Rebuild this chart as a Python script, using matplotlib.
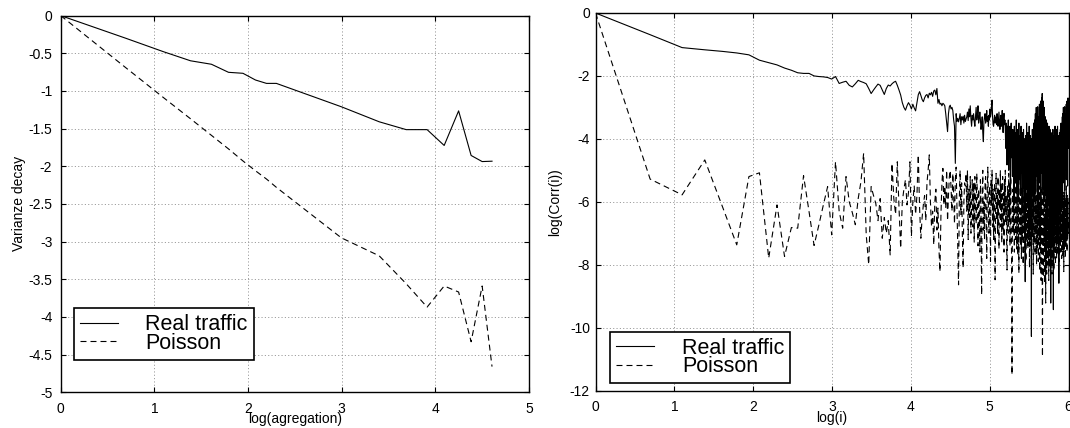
import numpy as np
import matplotlib
matplotlib.use('Agg')
import matplotlib.pyplot as plt
from matplotlib.ticker import FormatStrFormatter, FixedLocator

plt.rcParams['font.family'] = ['Liberation Sans', 'DejaVu Sans']
plt.rcParams['axes.unicode_minus'] = False
plt.rcParams['lines.scale_dashes'] = False

# ---------------- data: left panel (variance decay) ----------------
agg_levels = [1, 2, 3, 4, 5, 6, 7, 8, 9, 10, 20, 30, 40, 50, 60, 70, 80, 90, 100]
var_real = [0, -0.30, -0.48, -0.60, -0.646, -0.753, -0.766, -0.855, -0.90, -0.90,
            -1.21, -1.41, -1.514, -1.514, -1.724, -1.265, -1.857, -1.938, -1.933]
var_poisson = [0, -0.69, -1.09, -1.37, -1.59, -1.77, -1.93, -2.06, -2.17, -2.28,
               -2.95, -3.19, -3.56, -3.87, -3.59, -3.67, -4.33, -3.59, -4.66]

# ---------------- data: right panel (log correlation vs log lag) ----------------
corr_real = [
    0, -0.69, -1.10, -1.17, -1.22, -1.27, -1.33, -1.50, -1.58, -1.65,
    -1.75, -1.82, -1.90, -1.92, -1.92, -2.00, -2.02, -2.03, -2.05, -2.10,
    -2.02, -2.24, -2.20, -2.17, -2.30, -2.35, -2.25, -2.14, -2.18, -2.21,
    -2.25, -2.40, -2.56, -2.45, -2.35, -2.26, -2.30, -2.45, -2.59, -2.40,
    -2.29, -2.32, -2.25, -2.20, -2.17, -2.30, -2.45, -2.61, -2.85, -3.00,
    -3.09, -2.95, -2.85, -2.93, -3.05, -2.90, -3.02, -3.11, -2.85, -2.60,
    -2.50, -2.62, -2.75, -2.82, -2.70, -2.62, -2.59, -2.70, -2.55, -2.60,
    -2.52, -2.65, -2.48, -2.45, -2.60, -2.40, -2.87, -2.75, -2.90, -2.87,
    -2.95, -2.87, -2.90, -2.95, -3.20, -3.50, -3.77, -3.20, -2.98, -2.93,
    -3.05, -3.00, -3.10, -3.40, -3.60, -4.78, -3.20, -3.45, -3.35, -3.46,
    -3.35, -3.20, -3.55, -3.30, -3.40, -3.28, -3.50, -3.25, -3.45, -3.38,
    -3.30, -3.15, -3.42, -3.05, -3.30, -2.95, -3.35, -3.60, -3.25, -3.40,
    -3.20, -3.45, -3.60, -3.30, -3.00, -3.40, -3.25, -2.95, -3.50, -3.35,
    -3.15, -3.40, -3.70, -3.55, -3.30, -3.80, -4.09, -3.45, -3.30, -3.20,
    -3.50, -3.35, -3.10, -3.45, -3.30, -3.60, -3.25, -3.40, -3.05, -3.30,
    -3.20, -2.95, -2.77, -3.30, -3.55, -3.60, -3.40, -3.25, -3.50, -3.45,
    -3.30, -3.55, -3.20, -3.45, -3.60, -3.35, -3.15, -3.50, -3.70, -3.40,
    -3.25, -3.60, -3.45, -3.10, -3.50, -3.80, -3.35, -3.19, -3.55, -3.40,
    -3.70, -4.30, -3.50, -3.90, -4.83, -3.60, -4.20, -3.40, -5.00, -3.80,
    -4.40, -3.60, -5.68, -4.10, -3.50, -4.60, -3.90, -5.20, -3.70, -4.80,
    -4.00, -6.10, -3.60, -4.50, -5.40, -3.80, -4.90, -3.40, -5.60, -4.20,
    -3.70, -5.00, -6.00, -4.30, -3.50, -5.30, -4.60, -3.90, -5.80, -4.10,
    -3.60, -5.10, -4.40, -6.20, -3.80, -4.90, -5.50, -3.70, -4.60, -6.50,
    -4.00, -5.20, -8.54, -3.90, -4.80, -5.60, -3.50, -4.40, -6.00, -4.70,
    -3.80, -5.40, -4.20, -6.30, -3.60, -5.00, -4.50, -6.70, -3.90, -5.30,
    -4.60, -10.28, -4.00, -5.80, -3.70, -5.10, -4.30, -6.40, -3.50, -5.50,
    -4.20, -6.00, -3.40, -4.90, -3.20, -5.70, -4.10, -3.00, -5.20, -4.40,
    -3.10, -5.90, -2.98, -4.50, -3.60, -6.50, -3.30, -4.80, -2.90, -5.40,
    -3.50, -4.30, -2.80, -6.20, -3.20, -4.60, -2.70, -5.10, -2.56, -4.00,
    -3.00, -5.60, -2.80, -4.40, -3.30, -6.00, -3.00, -4.70, -3.40, -5.80,
    -3.30, -4.50, -3.60, -6.30, -3.40, -5.00, -3.80, -6.80, -3.50, -4.90,
    -3.80, -6.00, -4.00, -5.20, -3.60, -7.00, -4.20, -5.50, -3.70, -6.40,
    -4.10, -9.22, -3.80, -5.60, -4.50, -6.60, -3.90, -5.10, -4.30, -7.20,
    -3.70, -5.40, -9.43, -4.20, -6.10, -3.90, -5.00, -4.60, -6.80, -3.60,
    -5.30, -4.40, -6.50, -3.80, -5.70, -4.10, -7.00, -3.70, -4.90, -6.20,
    -3.60, -5.50, -4.30, -6.60, -3.90, -5.00, -8.59, -4.20, -5.80, -3.80,
    -5.20, -4.00, -6.40, -3.70, -5.60, -4.50, -3.50, -6.10, -4.00, -5.30,
    -3.60, -4.80, -3.30, -6.00, -4.20, -3.20, -5.40, -3.00, -4.60, -3.40,
    -5.10, -3.10, -4.40, -2.98, -5.60, -3.50, -4.20, -3.20, -5.00, -3.60,
    -4.50, -2.90, -5.30, -3.30, -4.00, -2.80, -4.70, -3.10, -5.50, -3.40,
    -2.70, -4.30, -3.60,
]

corr_poisson = [
    0, -5.28, -5.78, -4.67, -6.15, -7.37, -5.20, -5.08, -7.79, -6.10,
    -7.74, -6.82, -6.84, -5.17, -6.30, -7.39, -6.74, -6.10, -5.52, -7.05,
    -4.73, -6.31, -6.84, -5.20, -6.00, -6.35, -6.73, -5.90, -5.36, -4.46,
    -7.05, -8.00, -5.52, -5.80, -6.05, -6.60, -5.90, -7.16, -6.50, -7.00,
    -6.60, -7.69, -4.78, -5.90, -6.40, -4.73, -6.20, -7.48, -6.00, -5.60,
    -5.30, -6.10, -5.70, -4.73, -7.10, -6.00, -5.50, -6.40, -5.80, -4.51,
    -6.20, -7.16, -6.50, -6.10, -5.80, -6.60, -5.40, -5.00, -4.51, -6.00,
    -6.80, -6.30, -7.37, -6.00, -5.60, -6.90, -6.20, -7.50, -8.22, -6.40,
    -5.40, -4.94, -6.10, -5.50, -6.20, -5.00, -6.60, -5.80, -5.20, -5.00,
    -5.60, -6.30, -5.10, -5.80, -6.70, -5.30, -4.90, -6.20, -7.40, -8.64,
    -5.90, -5.00, -6.40, -5.40, -7.10, -8.10, -6.00, -5.40, -5.50, -5.10,
    -6.30, -5.00, -7.20, -5.60, -6.50, -5.20, -7.00, -6.10, -5.30, -6.80,
    -5.40, -7.30, -5.20, -6.00, -6.70, -5.10, -5.90, -7.40, -5.60, -6.20,
    -7.60, -5.30, -6.40, -8.96, -5.80, -5.00, -6.90, -6.00, -7.20, -5.40,
    -5.20, -6.50, -7.80, -5.60, -4.90, -6.20, -7.00, -5.50, -6.30, -7.90,
    -5.30, -6.10, -5.00, -6.80, -5.60, -7.20, -6.00, -5.40, -8.48, -6.30,
    -5.10, -6.60, -5.80, -7.00, -5.20, -6.40, -7.50, -5.60, -6.20, -5.00,
    -6.80, -5.40, -7.30, -6.00, -5.20, -6.90, -5.70, -7.60, -5.30, -6.40,
    -5.00, -6.70, -5.80, -7.20, -8.17, -5.50, -6.30, -7.00, -5.10, -6.60,
    -5.40, -7.40, -6.00, -5.20, -6.90, -7.80, -11.50, -6.20, -5.60, -7.00,
    -5.30, -6.50, -7.60, -5.80, -6.20, -7.20, -5.00, -6.80, -7.50, -5.60,
    -6.40, -7.70, -5.40, -6.90, -8.27, -5.80, -7.10, -6.00, -5.20, -7.40,
    -6.20, -7.80, -5.50, -6.60, -7.20, -5.90, -8.00, -6.30, -5.40, -7.00,
    -6.50, -7.60, -5.10, -6.80, -7.90, -5.70, -6.40, -7.30, -5.30, -6.90,
    -7.50, -6.00, -5.40, -7.20, -6.30, -8.10, -5.60, -6.70, -7.40, -5.20,
    -6.60, -7.80, -5.90, -6.40, -7.10, -5.40, -6.80, -8.30, -6.00, -5.50,
    -7.30, -6.20, -5.60, -7.70, -6.50, -5.30, -7.00, -6.10, -8.00, -5.80,
    -6.90, -7.50, -5.40, -6.30, -7.90, -5.70, -6.60, -7.20, -5.50, -8.20,
    -6.10, -7.40, -5.60, -6.80, -8.50, -6.00, -7.10, -5.50, -8.80, -10.92,
    -6.30, -7.60, -5.70, -8.40, -6.50, -7.20, -5.40, -8.60, -6.80, -7.50,
    -5.90, -9.22, -6.40, -7.80, -5.50, -8.30, -6.90, -7.40, -5.80, -8.00,
    -6.20, -7.60, -5.40, -8.50, -6.70, -7.30, -5.60, -8.10, -6.40, -7.70,
    -5.50, -6.90, -8.00, -6.10, -7.40, -5.30, -8.30, -6.60, -7.20, -5.70,
    -6.80, -7.90, -5.40, -6.50, -8.20, -5.90, -7.10, -6.30, -7.60, -5.50,
    -6.70, -8.00, -5.80, -7.30, -6.20, -5.40, -7.80, -6.50, -5.70, -7.10,
    -6.00, -7.70, -5.40, -6.80, -7.40, -5.60, -6.30, -7.90, -5.80, -6.60,
    -7.20, -5.50, -6.90, -7.60, -5.90, -6.40, -7.30, -5.60, -6.80, -7.80,
    -6.10, -5.50, -7.10, -6.50, -7.70, -5.80, -6.60, -7.40, -6.00, -8.22,
    -5.70, -6.90, -7.50, -6.20, -5.60, -7.20, -6.60, -7.80, -5.90, -6.70,
    -7.40, -6.10, -5.50, -7.00, -6.40, -7.60, -5.80, -6.90, -7.20, -6.30,
    -5.90, -7.00, -6.50,
]

left_xticks = [0, 1, 2, 3, 4, 5]
left_yticks = [0, -0.5, -1, -1.5, -2, -2.5, -3, -3.5, -4, -4.5, -5]
right_xticks = [0, 1, 2, 3, 4, 5, 6]
right_yticks = [0, -2, -4, -6, -8, -10, -12]
legend_labels = ['Real traffic', 'Poisson']

# ---------------- figure ----------------
W, H = 1070, 428
fig = plt.figure(figsize=(W / 100, H / 100), dpi=100)

def px_axes(x0, x1, y0, y1):
    return fig.add_axes([x0 / W, 1 - y1 / H, (x1 - x0) / W, (y1 - y0) / H])

axL = px_axes(60.7, 529.0, 15.6, 392.2)
axR = px_axes(595.5, 1068.5, 13.0, 390.5)

dash = (0, (4.3, 2.9))
grid_kw = dict(color='0.6', linestyle=(0, (0.8, 1.6)), linewidth=0.7)

def style(ax, xt, yt, xlim, ylim, xpad, ypad):
    ax.set_xlim(*xlim)
    ax.set_ylim(*ylim)
    ax.xaxis.set_major_locator(FixedLocator(xt))
    ax.yaxis.set_major_locator(FixedLocator(yt))
    ax.xaxis.set_major_formatter(FormatStrFormatter('%g'))
    ax.yaxis.set_major_formatter(FormatStrFormatter('%g'))
    ax.tick_params(direction='in', length=3.5, width=0.8, top=True, right=True,
                   labelsize=10, colors='black')
    ax.tick_params(axis='x', pad=xpad)
    ax.tick_params(axis='y', pad=ypad)
    ax.grid(True, **grid_kw)
    for s in ax.spines.values():
        s.set_linewidth(1.0)
        s.set_color('black')

leg_kw = dict(loc='lower left', borderaxespad=0, prop={'size': 15.5},
              frameon=True, fancybox=False, framealpha=1, edgecolor='black',
              borderpad=0.3, labelspacing=-0.12, handlelength=1.75,
              handletextpad=1.3, borderaxespad_=None) if False else None

def add_legend(ax, handles, anchor):
    leg = ax.legend(handles, legend_labels, loc='lower left',
                    bbox_to_anchor=anchor, borderaxespad=0,
                    prop={'size': 15.5}, frameon=True, fancybox=False,
                    framealpha=1, edgecolor='black', borderpad=0.28,
                    labelspacing=-0.12, handlelength=1.75, handletextpad=1.3)
    leg.get_frame().set_linewidth(1.2)
    return leg

# left panel
xl = np.log(agg_levels)
l1, = axL.plot(xl, var_real, color='black', lw=0.8)
l2, = axL.plot(xl, var_poisson, color='black', lw=0.8, linestyle=dash)
style(axL, left_xticks, left_yticks, (0, 5), (-5, 0), 7, 6)
axL.set_xlabel('log(agregation)', fontsize=10)
axL.set_ylabel('Varianze decay', fontsize=10)
axL.xaxis.set_label_coords(0.5, -0.053)
axL.yaxis.set_label_coords(-0.074, 0.5)
add_legend(axL, [l1, l2], (0.028, 0.086))

# right panel
xr_real = np.log(np.arange(1, len(corr_real) + 1))
xr_pois = np.log(np.arange(1, len(corr_poisson) + 1))
r1, = axR.plot(xr_real, corr_real, color='black', lw=0.8)
r2, = axR.plot(xr_pois, corr_poisson, color='black', lw=0.8, linestyle=dash)
style(axR, right_xticks, right_yticks, (0, 6), (-12, 0), 7, 4)
axR.set_xlabel('log(i)', fontsize=10)
axR.set_ylabel('log(Corr(i))', fontsize=10)
axR.xaxis.set_label_coords(0.5, -0.055)
axR.yaxis.set_label_coords(-0.071, 0.5)
add_legend(axR, [r1, r2], (0.031, 0.019))

fig.savefig('out.png', dpi=100)
